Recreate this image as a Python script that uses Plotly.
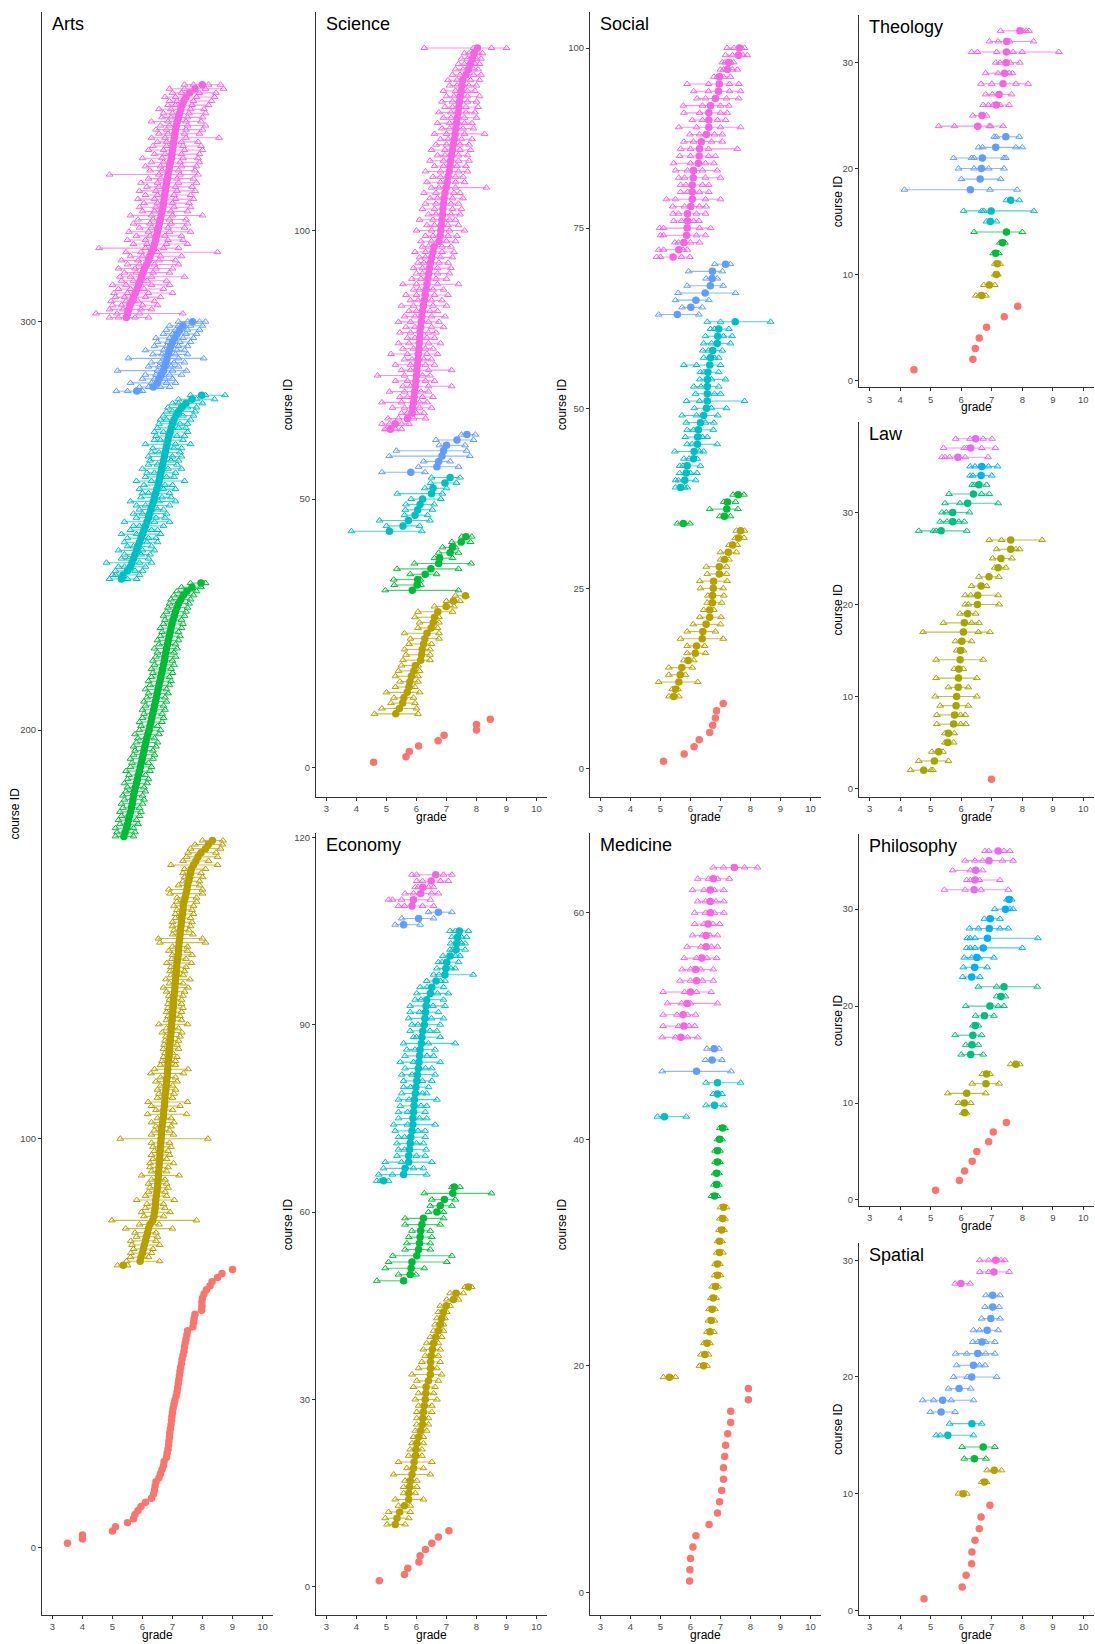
import plotly.graph_objects as go

# ---------------- DATA (grades per course; course ID = running index) ----------------
# Each panel: list of groups; group 0 (red) has only a mean, other groups have mean/lo/hi
# and optionally extra intermediate yearly grades ("mid").

arts_mean = [
    [3.5, 4.0, 4.0, 5.0, 5.1, 5.5, 5.7, 5.75, 5.85, 5.95,
     6.1, 6.3, 6.37, 6.4, 6.42, 6.45, 6.55, 6.6, 6.65, 6.7,
     6.72, 6.8, 6.82, 6.85, 6.87, 6.88, 6.9, 6.91, 6.93, 6.95,
     6.97, 6.98, 7.0, 7.02, 7.05, 7.08, 7.12, 7.15, 7.17, 7.19,
     7.21, 7.23, 7.25, 7.27, 7.3, 7.32, 7.35, 7.38, 7.4, 7.42,
     7.45, 7.48, 7.5, 7.68, 7.7, 7.72, 7.75, 7.97, 7.98, 7.98,
     8.0, 8.05, 8.13, 8.25, 8.32, 8.5, 8.65, 9.0],
    [5.36, 5.92, 5.95, 6.0, 6.03, 6.06, 6.1, 6.13, 6.17, 6.2,
     6.25, 6.34, 6.38, 6.4, 6.42, 6.43, 6.44, 6.46, 6.48, 6.5,
     6.51, 6.52, 6.53, 6.54, 6.55, 6.56, 6.57, 6.58, 6.59, 6.6,
     6.61, 6.62, 6.63, 6.64, 6.65, 6.67, 6.69, 6.7, 6.71, 6.73,
     6.74, 6.75, 6.76, 6.78, 6.79, 6.8, 6.82, 6.83, 6.84, 6.85,
     6.86, 6.88, 6.89, 6.9, 6.91, 6.93, 6.94, 6.95, 6.96, 6.97,
     6.99, 7.0, 7.01, 7.02, 7.03, 7.04, 7.05, 7.07, 7.08, 7.09,
     7.1, 7.12, 7.13, 7.14, 7.15, 7.17, 7.19, 7.2, 7.21, 7.22,
     7.24, 7.25, 7.27, 7.28, 7.3, 7.31, 7.33, 7.35, 7.36, 7.38,
     7.42, 7.45, 7.48, 7.5, 7.54, 7.57, 7.6, 7.63, 7.7, 7.78,
     7.85, 7.95, 8.1, 8.2, 8.33],
    [5.38, 5.42, 5.47, 5.5, 5.53, 5.56, 5.6, 5.63, 5.66, 5.68,
     5.7, 5.73, 5.76, 5.8, 5.83, 5.86, 5.9, 5.93, 5.96, 5.99,
     6.02, 6.05, 6.08, 6.11, 6.14, 6.18, 6.22, 6.25, 6.28, 6.31,
     6.34, 6.37, 6.4, 6.43, 6.46, 6.49, 6.52, 6.55, 6.58, 6.61,
     6.64, 6.67, 6.7, 6.73, 6.75, 6.78, 6.8, 6.83, 6.86, 6.89,
     6.92, 6.95, 6.98, 7.02, 7.06, 7.1, 7.15, 7.2, 7.28, 7.36,
     7.48, 7.65, 7.95],
    [5.3, 5.35, 5.5, 5.6, 5.65, 5.7, 5.75, 5.8, 5.85, 5.9,
     5.95, 6.0, 6.05, 6.1, 6.15, 6.2, 6.24, 6.28, 6.32, 6.36,
     6.4, 6.44, 6.48, 6.52, 6.55, 6.58, 6.61, 6.64, 6.67, 6.7,
     6.73, 6.76, 6.79, 6.82, 6.85, 6.88, 6.92, 6.96, 7.0, 7.05,
     7.12, 7.2, 7.3, 7.45, 7.65, 7.97],
    [5.81, 6.36, 6.5, 6.55, 6.62, 6.7, 6.74, 6.78, 6.82, 6.86,
     6.9, 6.95, 7.0, 7.08, 7.15, 7.25, 7.35, 7.67],
    [5.46, 5.5, 5.54, 5.58, 5.64, 5.7, 5.76, 5.82, 5.87, 5.92,
     5.97, 6.02, 6.07, 6.14, 6.2, 6.25, 6.3, 6.36, 6.4, 6.44,
     6.47, 6.5, 6.53, 6.56, 6.59, 6.62, 6.65, 6.68, 6.7, 6.72,
     6.74, 6.76, 6.78, 6.8, 6.83, 6.85, 6.88, 6.9, 6.93, 6.96,
     6.98, 7.0, 7.02, 7.04, 7.06, 7.08, 7.1, 7.13, 7.16, 7.2,
     7.24, 7.28, 7.32, 7.38, 7.45, 7.58, 7.75, 7.99],
]
arts_lo = [
    [],
    [5.17, 5.47, 5.6, 5.61, 5.7, 5.65, 5.61, 5.8, 5.75, 5.44,
     5.9, 4.98, 6.05, 5.97, 6.1, 6.15, 5.81, 6.1, 6.2, 6.25,
     6.2, 6.3, 5.97, 6.3, 6.25, 6.25, 6.35, 6.3, 6.4, 6.35,
     6.3, 5.26, 6.3, 6.4, 6.45, 6.3, 6.5, 6.17, 6.45, 6.3,
     6.19, 6.5, 6.55, 6.5, 6.6, 6.45, 6.6, 6.28, 6.4, 6.6,
     6.65, 6.7, 6.75, 6.7, 6.72, 6.75, 6.78, 6.66, 6.8, 6.55,
     6.8, 6.85, 6.8, 6.85, 6.85, 6.9, 6.88, 6.8, 6.7, 6.9,
     6.78, 6.95, 6.92, 6.95, 6.81, 6.98, 7.0, 6.88, 7.0, 6.58,
     6.53, 7.0, 7.05, 7.0, 7.0, 7.1, 7.1, 7.15, 7.05, 7.15,
     7.15, 6.92, 6.88, 7.2, 7.35, 7.4, 7.35, 7.4, 6.95, 7.35,
     7.47, 7.52, 7.6, 7.75, 8.0],
    [5.1, 5.15, 5.1, 5.25, 5.2, 5.3, 5.25, 5.35, 5.3, 5.4,
     5.35, 5.45, 5.5, 5.4, 5.5, 5.55, 5.45, 5.6, 5.65, 5.6,
     5.7, 5.75, 5.7, 5.8, 5.85, 5.75, 5.9, 5.95, 5.9, 6.0,
     6.05, 6.0, 6.1, 6.05, 6.15, 6.2, 6.1, 6.25, 6.2, 6.3,
     6.35, 6.3, 6.4, 6.35, 6.45, 6.5, 6.4, 6.55, 6.5, 6.6,
     6.65, 6.6, 6.7, 6.75, 6.7, 6.8, 6.85, 6.9, 6.95, 7.05,
     7.15, 7.3, 7.6],
    [4.9, 5.0, 5.1, 5.2, 4.8, 5.3, 5.4, 5.2, 5.5, 5.4,
     5.5, 5.3, 5.6, 5.7, 5.4, 5.8, 5.7, 5.9, 5.8, 5.6,
     5.95, 6.0, 5.9, 6.05, 5.8, 6.1, 6.15, 6.0, 6.2, 6.25,
     6.2, 6.3, 6.35, 6.1, 6.4, 6.45, 6.4, 6.5, 6.55, 6.6,
     6.7, 6.8, 6.85, 7.0, 7.2, 7.6],
    [5.13, 5.9, 5.6, 6.0, 6.1, 5.17, 6.2, 6.3, 5.53, 6.35,
     6.1, 6.4, 6.5, 6.45, 6.7, 6.8, 6.9, 7.2],
    [4.9, 4.45, 4.9, 5.0, 4.95, 5.1, 5.05, 5.2, 5.0, 5.3,
     5.25, 5.4, 5.2, 5.5, 5.3, 5.6, 5.45, 4.55, 5.7, 5.5,
     5.8, 5.55, 5.9, 5.7, 5.85, 5.6, 6.0, 5.9, 6.05, 5.85,
     6.1, 5.9, 6.15, 5.95, 6.2, 4.9, 6.25, 6.1, 6.3, 6.0,
     6.4, 6.2, 6.35, 6.5, 6.3, 6.55, 6.45, 6.6, 6.3, 6.65,
     6.7, 6.55, 6.85, 6.9, 6.75, 7.0, 6.9, 7.4],
]
arts_hi = [
    [],
    [5.5, 6.57, 6.2, 6.3, 6.35, 6.57, 6.45, 6.5, 6.45, 7.0,
     6.55, 7.8, 6.7, 6.92, 6.75, 6.7, 7.06, 6.8, 6.75, 6.85,
     6.8, 6.75, 7.22, 6.8, 6.85, 7.03, 6.8, 6.9, 6.85, 6.95,
     6.9, 8.18, 7.03, 6.9, 6.95, 7.05, 6.95, 7.47, 7.0, 7.25,
     7.5, 7.0, 7.05, 7.1, 7.0, 7.15, 7.1, 7.36, 7.52, 7.1,
     7.1, 7.15, 7.0, 7.2, 7.15, 7.2, 7.25, 7.31, 7.2, 7.5,
     7.3, 7.25, 7.3, 7.35, 7.3, 7.3, 7.35, 7.4, 7.52, 7.35,
     7.58, 7.36, 7.4, 7.45, 7.63, 7.45, 7.65, 7.5, 7.5, 8.1,
     8.0, 7.68, 7.55, 7.6, 7.65, 7.6, 7.7, 7.65, 7.7, 7.8,
     7.8, 8.0, 8.0, 7.9, 7.9, 8.0, 7.95, 8.1, 8.5, 8.2,
     8.5, 8.45, 8.6, 8.66, 8.68],
    [5.7, 5.75, 5.7, 5.85, 5.8, 5.9, 5.95, 5.9, 6.0, 6.05,
     6.0, 6.1, 6.05, 6.15, 6.2, 6.1, 6.25, 6.3, 6.2, 6.35,
     6.4, 6.35, 6.45, 6.5, 6.4, 6.55, 6.6, 6.5, 6.65, 6.7,
     6.65, 6.75, 6.7, 6.8, 6.75, 6.85, 6.8, 6.9, 6.95, 6.9,
     7.0, 6.95, 7.05, 7.0, 7.1, 7.05, 7.15, 7.1, 7.2, 7.25,
     7.2, 7.3, 7.35, 7.3, 7.4, 7.45, 7.5, 7.55, 7.6, 7.7,
     7.8, 7.95, 8.1],
    [5.8, 5.9, 6.0, 6.1, 6.3, 6.2, 6.25, 6.4, 6.3, 6.5,
     6.45, 6.6, 6.5, 6.7, 6.9, 6.75, 6.8, 6.7, 6.9, 7.1,
     6.95, 6.9, 7.1, 7.0, 7.4, 7.05, 7.1, 7.3, 7.15, 7.2,
     7.3, 7.25, 7.3, 7.6, 7.35, 7.4, 7.5, 7.45, 7.5, 7.6,
     7.7, 7.75, 7.8, 8.0, 8.4, 8.75],
    [6.0, 6.9, 7.1, 7.0, 7.3, 7.47, 7.2, 7.4, 8.04, 7.5,
     7.4, 7.5, 7.6, 7.7, 7.8, 7.9, 8.0, 8.1],
    [6.2, 7.34, 6.3, 6.5, 6.4, 6.6, 7.0, 6.7, 6.9, 6.8,
     7.4, 6.9, 7.0, 7.2, 7.1, 7.3, 8.5, 7.2, 7.5, 7.35,
     7.3, 7.6, 7.4, 7.5, 7.45, 8.0, 7.5, 7.6, 7.55, 7.7,
     7.6, 7.75, 7.65, 7.8, 7.7, 7.85, 7.75, 7.8, 7.9, 7.85,
     7.9, 8.0, 7.95, 7.85, 8.55, 7.9, 8.0, 8.1, 7.95, 8.0,
     8.1, 8.05, 8.2, 8.3, 8.4, 8.45, 8.7, 8.6],
]
arts_mid = [
    [], [], [],
    [[5.5], [5.1], [5.75], [5.4], [5.9], [5.55], [5.95], [6.0], [5.7], [6.15],
     [6.2], [5.8], [6.3], [5.9], [6.4], [6.45], [6.0], [6.5], [6.1], [6.55],
     [6.65], [6.2], [6.7], [6.75], [6.3], [6.8], [6.4], [6.85], [6.5], [6.95],
     [7.0], [6.55], [7.05], [7.1], [6.6], [7.15], [6.7], [7.2], [7.25], [6.8],
     [7.35], [7.0], [7.5], [7.2], [7.8], [8.1]],
    [[5.5, 5.9], [6.2, 6.6], [6.3, 6.8], [6.4, 6.75], [6.45, 6.9], [6.5, 7.0],
     [6.55, 6.95], [6.6, 7.05], [6.7, 7.2], [6.65, 7.1], [6.7, 7.15], [6.8, 7.2],
     [6.85, 7.25], [6.9, 7.35], [7.0, 7.45], [7.1, 7.5], [7.2, 7.6], [7.5, 7.9]],
    [[5.2, 5.75], [5.15, 5.9], [5.35, 5.95], [5.3, 6.0], [5.45, 5.85],
     [5.4, 6.1], [5.5, 6.2], [5.6, 6.05], [5.45, 6.3], [5.7, 6.15],
     [5.6, 6.3], [5.8, 6.35], [5.75, 6.45], [5.9, 6.4], [5.85, 6.55],
     [6.0, 6.6], [5.95, 6.5], [6.1, 6.7], [6.15, 6.8], [6.1, 6.85],
     [6.25, 6.75], [6.2, 6.9], [6.3, 6.85], [6.25, 6.95], [6.35, 6.9],
     [6.3, 7.0], [6.4, 6.95], [6.45, 7.05], [6.5, 7.0], [6.4, 7.1],
     [6.5, 7.05], [6.45, 7.15], [6.55, 7.1], [6.5, 7.2], [6.6, 7.15],
     [6.55, 7.25], [6.65, 7.2], [6.6, 7.3], [6.7, 7.25], [6.65, 7.35],
     [6.75, 7.3], [6.7, 7.4], [6.8, 7.35], [6.8, 7.3], [6.75, 7.45],
     [6.85, 7.4], [6.8, 7.45], [6.9, 7.5], [6.85, 7.45], [6.95, 7.5],
     [7.0, 7.55], [6.95, 7.6], [7.1, 7.65], [7.15, 7.7], [7.1, 7.8],
     [7.3, 7.9], [7.4, 8.1], [7.7, 8.2]],
]

science_mean = [
    [4.57, 5.65, 5.76, 6.07, 6.72, 6.92, 8.0, 8.0, 8.46],
    [5.31, 5.43, 5.54, 5.58, 5.69, 5.75, 5.78, 5.83, 5.91, 5.96,
     6.14, 6.17, 6.19, 6.24, 6.28, 6.35, 6.49, 6.56, 6.6, 6.71,
     6.99, 7.23, 7.63],
    [5.86, 6.02, 6.04, 6.29, 6.48, 6.74, 6.77, 7.12, 7.2, 7.49, 7.65],
    [5.1, 5.55, 5.73, 5.95, 6.04, 6.12, 6.2, 6.5, 6.55, 6.95, 7.12],
    [5.81, 6.68, 6.74, 6.85, 6.9, 7.0, 7.35, 7.68],
    [5.13, 5.29, 5.7, 5.85, 5.87, 5.9, 5.92, 5.94, 5.96, 5.98,
     6.0, 6.01, 6.03, 6.05, 6.06, 6.08, 6.09, 6.11, 6.12, 6.14,
     6.16, 6.18, 6.2, 6.23, 6.26, 6.29, 6.32, 6.35, 6.38, 6.41,
     6.43, 6.47, 6.51, 6.55, 6.59, 6.75, 6.79, 6.81, 6.83, 6.85,
     6.87, 6.88, 6.9, 6.92, 6.95, 6.99, 7.02, 7.05, 7.09, 7.12,
     7.14, 7.17, 7.2, 7.23, 7.26, 7.29, 7.31, 7.34, 7.36, 7.39,
     7.41, 7.43, 7.46, 7.49, 7.52, 7.54, 7.65, 7.73, 7.8, 7.86,
     7.92, 8.03],
]
science_lo = [
    [],
    [4.6, 4.85, 5.15, 5.25, 5.0, 5.3, 5.45, 5.3, 5.4, 5.5,
     5.55, 5.65, 5.6, 5.75, 5.8, 5.6, 6.05, 6.1, 5.95, 6.05,
     6.6, 7.0, 7.3],
    [4.96, 5.26, 5.24, 5.79, 5.35, 5.93, 6.6, 6.74, 6.87, 7.18, 7.51],
    [3.83, 5.0, 4.77, 5.6, 5.63, 5.65, 5.82, 5.36, 6.28, 6.47, 6.5],
    [4.85, 6.07, 6.24, 5.09, 5.33, 6.76, 6.65, 7.5],
    [4.95, 4.85, 5.05, 5.5, 5.2, 4.85, 5.45, 5.1, 5.55, 5.3,
     4.7, 5.5, 5.3, 5.6, 5.15, 5.55, 5.4, 5.7, 5.45, 5.65,
     5.4, 5.6, 5.75, 5.5, 5.8, 5.65, 5.9, 5.55, 5.85, 6.0,
     5.9, 6.05, 6.1, 5.95, 6.2, 6.15, 6.3, 6.0, 6.35, 6.1,
     6.4, 6.2, 6.3, 6.45, 6.25, 6.5, 6.35, 6.55, 6.3, 6.6,
     6.45, 6.7, 6.5, 6.65, 6.8, 6.6, 6.85, 6.7, 6.9, 6.75,
     6.95, 6.85, 7.0, 6.9, 7.1, 7.05, 7.2, 7.3, 7.4, 7.5,
     7.6, 6.26],
]
science_hi = [
    [],
    [6.05, 6.0, 5.95, 5.9, 6.1, 5.95, 6.05, 6.05, 6.1, 6.05,
     6.45, 6.45, 6.45, 6.5, 6.75, 6.75, 6.7, 6.75, 6.75, 7.2,
     7.25, 7.45, 7.65],
    [7.4, 6.15, 6.13, 6.67, 7.4, 7.82, 7.2, 7.4, 7.3, 7.8, 7.84],
    [6.18, 6.1, 6.45, 6.37, 6.53, 6.59, 6.81, 6.86, 7.0, 7.33, 7.45],
    [6.28, 7.4, 7.12, 7.78, 7.67, 7.62, 7.9, 7.96],
    [5.5, 5.75, 6.3, 6.25, 6.5, 6.35, 6.55, 6.4, 7.17, 6.6,
     6.45, 7.17, 6.6, 6.5, 6.7, 6.55, 6.8, 6.6, 6.65, 6.9,
     6.75, 6.95, 6.7, 7.0, 6.85, 7.05, 6.9, 7.4, 7.0, 7.1,
     7.15, 7.05, 7.2, 7.25, 7.15, 7.3, 7.35, 7.6, 7.4, 7.3,
     7.45, 7.5, 7.4, 7.55, 7.45, 8.33, 7.6, 7.55, 7.7, 7.65,
     7.75, 7.7, 7.8, 7.75, 7.85, 8.27, 7.9, 7.85, 8.0, 7.95,
     8.05, 8.0, 8.1, 7.95, 8.0, 8.1, 8.15, 8.05, 8.1, 8.15,
     8.2, 9.0],
]
science_mid = [
    [], [], [], [], [],
    [[5.0, 5.3], [5.1, 5.5], [5.4, 5.9], [5.7, 6.0], [5.6, 6.1],
     [5.5, 6.1], [5.7, 6.2], [5.6, 6.15], [5.8, 6.4], [5.7, 6.3],
     [5.6, 6.2], [5.8, 6.4], [5.8, 6.3], [5.85, 6.25], [5.7, 6.35],
     [5.9, 6.3], [5.75, 6.4], [5.95, 6.35], [5.8, 6.4], [5.95, 6.5],
     [5.8, 6.4], [5.95, 6.5], [6.0, 6.45], [5.9, 6.55], [6.05, 6.5],
     [6.0, 6.6], [6.1, 6.55], [6.0, 6.7], [6.15, 6.65], [6.2, 6.7],
     [6.2, 6.7], [6.25, 6.75], [6.3, 6.8], [6.3, 6.85], [6.4, 6.85],
     [6.5, 7.0], [6.55, 7.05], [6.5, 7.1], [6.6, 7.05], [6.55, 7.1],
     [6.65, 7.15], [6.6, 7.2], [6.65, 7.15], [6.7, 7.2], [6.65, 7.25],
     [6.75, 7.3], [6.8, 7.3], [6.8, 7.3], [6.8, 7.4], [6.9, 7.35],
     [6.9, 7.4], [6.95, 7.4], [6.95, 7.45], [7.0, 7.45], [7.05, 7.5],
     [7.0, 7.6], [7.1, 7.55], [7.1, 7.6], [7.15, 7.6], [7.15, 7.65],
     [7.2, 7.65], [7.2, 7.7], [7.25, 7.7], [7.3, 7.7], [7.35, 7.75],
     [7.35, 7.8], [7.45, 7.9], [7.55, 7.9], [7.6, 7.95], [7.7, 8.0],
     [7.75, 8.05], [7.9, 8.5]],
]

social_mean = [
    [5.1, 5.79, 6.12, 6.29, 6.64, 6.74, 6.83, 6.87, 7.09],
    [5.44, 5.5, 5.61, 5.66, 5.71, 5.92, 6.16, 6.2, 6.39, 6.41,
     6.52, 6.64, 6.64, 6.73, 6.73, 6.76, 6.77, 6.96, 6.96, 7.13,
     7.26, 7.4, 7.6, 7.67],
    [5.76, 7.13, 7.21, 7.23, 7.59],
    [5.67, 5.81, 5.86, 5.89, 6.1, 6.12, 6.23, 6.24, 6.26, 6.33,
     6.44, 6.53, 6.56, 6.56, 6.56, 6.56, 6.58, 6.64, 6.67, 6.74,
     6.89, 6.91, 6.94, 7.49],
    [5.56, 6.01, 6.18, 6.49, 6.66, 6.72, 6.73, 7.17],
    [5.42, 5.61, 5.78, 5.87, 5.89, 5.9, 5.9, 6.01, 6.06, 6.06,
     6.06, 6.09, 6.1, 6.26, 6.29, 6.3, 6.36, 6.53, 6.61, 6.61,
     6.61, 6.67, 6.83, 6.93, 6.96, 6.97, 7.23, 7.27, 7.6, 7.63],
]
social_lo = [
    [],
    [5.28, 5.39, 4.94, 5.28, 5.28, 5.78, 5.89, 5.89, 5.67, 5.89,
     6.09, 6.31, 6.44, 6.56, 6.58, 6.33, 6.31, 6.56, 6.53, 7.0,
     7.0, 7.28, 7.5, 7.53],
    [5.56, 6.98, 6.64, 7.11, 7.42],
    [5.5, 5.5, 5.64, 5.64, 5.78, 5.48, 5.89, 5.83, 5.89, 5.86,
     5.72, 6.13, 5.87, 6.17, 6.11, 6.31, 6.33, 5.78, 6.44, 6.41,
     6.44, 6.5, 6.67, 6.56],
    [4.94, 5.72, 5.5, 5.59, 5.89, 6.52, 5.94, 6.81],
    [4.87, 4.94, 5.48, 5.0, 4.97, 5.44, 5.42, 5.41, 5.2, 5.67,
     5.67, 5.61, 5.5, 5.44, 5.64, 5.67, 5.78, 5.98, 5.61, 6.06,
     5.78, 5.76, 6.22, 6.11, 5.89, 6.78, 7.0, 7.06, 7.17, 7.22],
]
social_hi = [
    [],
    [5.61, 5.58, 6.24, 5.83, 6.06, 6.11, 6.5, 6.47, 7.09, 6.83,
     7.0, 7.02, 6.78, 7.04, 7.11, 7.09, 7.22, 7.2, 7.2, 7.28,
     7.53, 7.56, 7.78, 7.8],
    [5.98, 7.33, 7.58, 7.5, 7.78],
    [5.89, 6.17, 6.22, 6.33, 6.22, 6.44, 6.89, 6.56, 6.76, 6.78,
     6.91, 7.2, 7.8, 7.0, 6.94, 7.17, 6.94, 7.0, 6.94, 7.06,
     7.33, 7.39, 7.28, 8.67],
    [6.28, 6.39, 6.61, 7.5, 7.09, 6.89, 7.06, 7.33],
    [5.98, 5.89, 6.3, 6.5, 6.67, 6.28, 6.5, 6.52, 7.0, 6.61,
     6.61, 7.0, 6.89, 6.78, 6.83, 7.56, 7.06, 7.06, 7.67, 7.17,
     7.22, 7.28, 7.61, 7.67, 7.61, 7.33, 7.56, 7.44, 7.89, 7.8],
]
social_mid = [
    [], [], [],
    [[5.8], [5.6], [6.0], [5.75], [5.95], [6.3], [6.05], [6.4], [6.1], [6.5],
     [6.2], [6.7], [6.3], [6.8], [6.35], [6.7], [6.45], [6.2], [6.8], [6.6],
     [6.7], [7.1], [6.8], [7.0]],
    [],
    [[5.0, 5.7], [5.1, 5.75], [5.6, 6.0], [5.1, 6.2], [5.1, 6.3],
     [5.7, 6.1], [5.6, 6.2], [5.8, 6.3], [5.5, 6.5], [5.9, 6.3],
     [5.85, 6.4], [5.8, 6.5], [5.9, 6.4], [6.0, 6.5], [6.0, 6.6],
     [6.0, 6.6], [6.1, 6.7], [6.3, 6.8], [6.2, 7.0], [6.4, 6.9],
     [6.3, 7.0], [6.4, 7.0], [6.5, 7.2], [6.6, 7.3], [6.6, 7.3],
     [6.9, 7.1], [7.1, 7.4], [7.15, 7.35], [7.4, 7.75], [7.45, 7.7]],
]

economy_mean = [
    [4.76, 5.6, 5.71, 6.08, 6.12, 6.3, 6.51, 6.73, 7.08],
    [5.29, 5.35, 5.44, 5.6, 5.74, 5.74, 5.77, 5.79, 5.85, 5.9,
     5.92, 5.97, 5.98, 6.01, 6.07, 6.14, 6.2, 6.21, 6.23, 6.26,
     6.29, 6.31, 6.32, 6.4, 6.46, 6.47, 6.47, 6.49, 6.53, 6.57,
     6.64, 6.73, 6.79, 6.84, 6.9, 6.99, 7.23, 7.32, 7.73],
    [5.57, 5.79, 5.82, 5.85, 6.01, 6.07, 6.1, 6.12, 6.14, 6.18,
     6.23, 6.68, 6.79, 6.93, 7.21, 7.26],
    [4.9, 5.57, 5.62, 5.74, 5.74, 5.77, 5.79, 5.81, 5.85, 5.88,
     5.88, 5.9, 5.92, 5.93, 5.96, 5.98, 6.01, 6.03, 6.06, 6.08,
     6.1, 6.12, 6.16, 6.18, 6.21, 6.26, 6.28, 6.3, 6.32, 6.34,
     6.46, 6.51, 6.65, 6.95, 6.98, 7.01, 7.12, 7.32, 7.34, 7.37,
     7.43],
    [5.57, 6.07, 6.73],
    [5.85, 5.9, 6.14, 6.21, 6.49, 6.64],
]
economy_lo = [
    [],
    [5.02, 4.96, 5.07, 5.4, 5.29, 5.57, 5.57, 5.62, 5.24, 5.68,
     5.4, 5.74, 5.79, 5.85, 5.9, 5.96, 6.01, 6.01, 6.01, 6.07,
     5.96, 6.07, 5.9, 6.01, 5.85, 6.07, 6.18, 6.29, 6.23, 6.34,
     6.46, 6.57, 6.62, 6.68, 6.73, 6.79, 7.01, 7.12, 7.62],
    [4.68, 5.4, 4.96, 5.07, 5.21, 5.62, 5.68, 5.74, 5.85, 5.62,
     5.62, 6.4, 6.46, 6.51, 6.26, 7.18],
    [4.68, 4.74, 4.9, 4.96, 5.35, 5.4, 5.35, 5.4, 5.29, 5.24,
     5.4, 5.4, 5.46, 5.4, 5.51, 5.57, 5.57, 5.51, 5.62, 5.46,
     5.62, 5.68, 5.57, 5.9, 5.79, 5.85, 5.74, 5.79, 5.79, 5.96,
     6.01, 6.12, 6.34, 6.57, 6.68, 6.73, 6.88, 7.12, 7.14, 7.18,
     7.12],
    [5.29, 5.51, 6.4],
    [5.4, 5.07, 5.62, 5.96, 6.01, 5.85],
]
economy_hi = [
    [],
    [5.62, 5.74, 5.79, 5.79, 6.23, 5.96, 6.01, 6.01, 6.46, 6.23,
     6.51, 6.18, 6.18, 6.23, 6.23, 6.34, 6.4, 6.4, 6.51, 6.51,
     6.68, 6.57, 6.62, 6.73, 6.84, 6.68, 6.79, 6.73, 6.79, 6.73,
     6.84, 6.9, 6.9, 6.95, 7.01, 7.12, 7.4, 7.56, 7.84],
    [5.57, 5.98, 6.26, 7.01, 7.18, 6.46, 6.46, 6.51, 6.46, 6.79,
     6.9, 6.9, 7.18, 7.29, 8.5, 7.45],
    [5.07, 6.34, 6.23, 6.51, 6.29, 6.32, 6.23, 6.29, 6.29, 6.62,
     6.34, 6.29, 6.34, 6.68, 6.34, 6.4, 6.51, 6.62, 6.51, 6.79,
     6.57, 6.62, 7.29, 6.79, 6.68, 6.79, 6.9, 6.73, 6.95, 6.9,
     7.06, 6.9, 6.95, 7.89, 7.29, 7.4, 7.45, 7.62, 7.62, 7.67,
     7.73],
    [6.12, 6.57, 7.18],
    [6.57, 6.46, 6.73, 6.57, 7.06, 7.18],
]
economy_mid = [
    [], [], [],
    [[4.8], [5.2], [5.9], [5.5], [6.0], [5.6], [6.0], [5.6], [6.05], [5.7],
     [6.1], [5.7], [6.15], [5.75], [6.2], [5.8], [6.2], [5.85], [6.3], [5.9],
     [6.35], [5.95], [6.4], [6.0], [6.45], [6.05], [6.5], [6.1], [6.55], [6.15],
     [6.7], [6.35], [6.8], [6.75], [7.15], [6.85], [7.3], [7.2], [7.5], [7.5],
     [7.3]],
    [],
    [[5.6, 6.2], [5.2, 5.5], [5.9, 6.5], [6.05, 6.4], [6.2, 6.8], [6.0, 6.9]],
]

medicine_mean = [
    [5.97, 5.98, 6.0, 6.08, 6.18, 6.62, 6.9, 6.97, 7.04, 7.1,
     7.1, 7.14, 7.17, 7.24, 7.34, 7.34, 7.93, 7.93],
    [5.3, 6.44, 6.48, 6.55, 6.65, 6.69, 6.72, 6.76, 6.83, 6.9,
     6.9, 6.97, 6.97, 7.04, 7.07, 7.1],
    [6.8, 6.87, 6.87, 6.9, 6.9, 6.97, 7.07],
    [5.13, 6.8, 6.9, 6.9],
    [6.2, 6.72, 6.79],
    [5.68, 5.78, 5.75, 5.89, 6.0, 6.2, 6.17, 6.38, 6.52, 6.52,
     6.59, 6.66, 6.66, 6.66, 6.76, 7.46],
]
medicine_lo = [
    [],
    [5.1, 6.3, 6.35, 6.45, 6.55, 6.6, 6.62, 6.68, 6.72, 6.8,
     6.82, 6.88, 6.9, 6.95, 6.98, 7.0],
    [6.7, 6.78, 6.8, 6.82, 6.82, 6.9, 6.98],
    [4.9, 6.52, 6.76, 6.52],
    [5.06, 6.5, 6.55],
    [5.06, 5.09, 5.09, 5.23, 5.09, 5.65, 5.72, 5.79, 5.89, 6.07,
     6.14, 6.14, 6.24, 6.07, 6.24, 6.76],
]
medicine_hi = [
    [],
    [5.5, 6.55, 6.6, 6.65, 6.78, 6.8, 6.82, 6.85, 6.92, 7.0,
     6.98, 7.08, 7.05, 7.12, 7.15, 7.2],
    [6.9, 6.95, 6.95, 6.98, 6.98, 7.05, 7.15],
    [5.86, 7.11, 7.05, 7.67],
    [7.35, 7.05, 6.95],
    [6.24, 6.14, 6.17, 6.9, 6.69, 6.76, 6.76, 6.87, 6.9, 6.9,
     6.97, 7.11, 7.11, 7.11, 7.29, 8.23],
]
medicine_mid = [
    [], [], [], [], [],
    [[5.5, 5.9], [5.6, 5.95], [5.55, 5.9], [5.7, 6.0], [5.8, 6.2],
     [6.0, 6.4], [6.0, 6.35], [6.2, 6.55], [6.35, 6.7], [6.4, 6.65],
     [6.45, 6.75], [6.5, 6.8], [6.5, 6.85], [6.45, 6.8], [6.6, 6.9], [7.1, 7.8]],
]

theology_mean = [
    [4.45, 6.38, 6.46, 6.59, 6.83, 7.41, 7.85],
    [6.67, 6.92, 7.15, 7.18],
    [7.13, 7.35, 7.48],
    [6.95, 6.98, 7.62],
    [6.3, 6.62, 6.66, 6.69, 7.13, 7.46],
    [6.54, 6.68, 7.15, 7.24, 7.37, 7.42, 7.47, 7.48, 7.49, 7.92],
]
theology_lo = [
    [],
    [6.48, 6.74, 7.1, 7.1],
    [7.05, 7.27, 6.42],
    [6.83, 6.08, 7.48],
    [4.14, 6.01, 5.91, 5.75, 6.57, 7.08],
    [5.26, 6.38, 6.72, 6.8, 6.65, 6.8, 7.13, 6.34, 6.92, 7.29],
]
theology_hi = [
    [],
    [6.81, 7.1, 7.2, 7.27],
    [7.23, 7.43, 8.0],
    [7.16, 8.38, 7.9],
    [7.83, 7.29, 7.4, 7.46, 8.0, 7.9],
    [7.37, 6.83, 7.57, 7.65, 8.19, 7.68, 7.92, 9.2, 8.37, 8.22],
]
theology_mid = [
    [],
    [[6.58], [], [], []],
    [[], [], []],
    [[], [6.67, 6.74], []],
    [[6.94], [], [6.42, 6.9], [6.34, 6.42, 7.4], [6.7, 7.79], [7.15]],
    [[5.78, 6.92, 6.96], [], [6.89, 7.05, 7.27], [7.02], [7.0, 7.79],
     [7.21, 7.57], [7.27, 7.61], [6.53, 7.16, 7.7, 8.0], [7.21, 7.59], [8.02, 8.13]],
]

law_mean = [
    [6.99],
    [4.77, 5.12, 5.26, 5.56, 5.58, 5.75, 5.78, 5.83, 5.85, 5.9,
     5.91, 5.92, 5.96, 5.98, 6.02, 6.07, 6.1, 6.21, 6.53, 6.54,
     6.65, 6.91, 7.21, 7.3, 7.62, 7.62],
    [5.34, 5.72, 5.72, 6.21, 6.4, 6.58],
    [6.65, 6.67],
    [5.89, 6.31, 6.47],
]
law_lo = [
    [],
    [4.34, 4.61, 5.04, 5.47, 5.47, 5.2, 5.2, 5.31, 5.15, 5.58,
     5.18, 5.77, 5.18, 5.85, 5.81, 4.75, 5.42, 5.96, 6.13, 6.13,
     6.34, 6.58, 7.1, 7.03, 7.16, 6.92],
    [4.61, 5.31, 5.37, 5.47, 5.6, 6.36],
    [6.29, 6.29],
    [5.37, 5.42, 5.82],
]
law_hi = [
    [],
    [5.07, 5.58, 5.4, 5.75, 5.77, 6.15, 6.13, 6.23, 6.51, 6.23,
     6.51, 6.07, 6.72, 6.07, 6.34, 6.94, 6.58, 6.47, 7.24, 7.21,
     6.83, 7.23, 7.46, 7.66, 7.91, 8.65],
    [6.18, 6.1, 6.27, 7.21, 6.92, 6.83],
    [7.0, 7.19],
    [6.88, 7.12, 7.01],
]
law_mid = [
    [],
    [[5.01], [], [], [], [], [5.98], [5.98], [], [], [],
     [], [], [], [], [], [6.56], [6.34], [], [6.23], [6.31],
     [], [], [], [], [7.79], [7.32]],
    [[5.09, 5.18], [5.53, 5.92], [5.51], [5.96], [6.67], [6.43]],
    [[6.38], [6.45, 6.89]],
    [[5.47, 5.62, 6.13], [6.1, 6.18, 6.67], [6.29, 6.72]],
]

philosophy_mean = [
    [5.16, 5.94, 6.11, 6.36, 6.51, 6.9, 7.05, 7.48],
    [6.11, 6.1, 6.18, 6.81, 6.83, 7.79],
    [6.31, 6.35, 6.38, 6.46, 6.76, 6.94, 7.3, 7.4],
    [6.34, 6.44, 6.51, 6.72, 6.86, 6.92, 6.95, 7.45, 7.57],
    [6.42, 6.45, 6.47, 6.91, 7.21],
]
philosophy_lo = [
    [],
    [6.05, 5.91, 5.56, 6.36, 6.7, 7.62],
    [6.0, 6.15, 5.8, 6.38, 6.47, 6.15, 7.16, 6.56],
    [6.05, 6.07, 6.1, 6.18, 6.2, 6.27, 6.76, 7.1, 7.5],
    [5.45, 6.18, 5.72, 6.13, 6.78],
]
philosophy_hi = [
    [],
    [6.17, 6.31, 6.8, 7.24, 6.94, 7.92],
    [6.72, 6.56, 6.67, 6.56, 7.07, 7.4, 7.45, 8.49],
    [6.61, 6.85, 7.07, 8.0, 8.51, 7.54, 7.27, 7.7, 7.65],
    [7.54, 7.27, 6.7, 7.7, 7.59],
]
philosophy_mid = [
    [],
    [[], [], [], [], [], []],
    [[], [], [], [], [], [7.21], [], [7.16]],
    [[], [], [6.34, 6.58], [6.3, 6.45], [6.29, 6.45], [6.56, 7.27], [], [7.6], []],
    [[6.13, 6.65], [6.3, 6.6], [6.3], [6.45, 6.7, 7.35], [6.9, 7.4]],
]

spatial_mean = [
    [4.78, 6.03, 6.16, 6.34, 6.35, 6.45, 6.59, 6.65, 6.94],
    [6.06, 6.76, 7.08],
    [6.43, 6.72],
    [5.56, 6.35],
    [5.34, 5.39, 5.93, 6.34, 6.4, 6.54, 6.68, 6.85, 6.97, 7.03, 7.03],
    [5.99, 7.07, 7.13],
]
spatial_lo = [
    [],
    [5.91, 6.67, 6.85],
    [6.1, 6.03],
    [5.18, 5.62],
    [4.99, 4.74, 5.58, 5.75, 5.85, 5.82, 6.38, 6.4, 6.67, 6.78, 6.81],
    [5.8, 6.61, 6.61],
]
spatial_hi = [
    [],
    [6.18, 6.83, 7.32],
    [6.81, 7.1],
    [6.4, 6.67],
    [5.8, 6.4, 6.31, 7.16, 6.78, 7.1, 7.1, 7.21, 7.27, 7.24, 7.27],
    [6.29, 7.57, 7.43],
]
spatial_mid = [
    [],
    [[], [], []],
    [[], []],
    [[5.31], []],
    [[], [5.1, 5.67], [], [6.2], [6.6], [6.18, 6.6, 6.8], [6.55, 6.8], [6.6], [], [], []],
    [[], [6.9], [6.9, 7.3]],
]

panel_titles = ["Arts", "Science", "Economy", "Social", "Medicine",
                "Theology", "Law", "Philosophy", "Spatial"]
grade_ticks = [3, 4, 5, 6, 7, 8, 9, 10]
yticks_list = [[0, 100, 200, 300], [0, 50, 100], [0, 30, 60, 90, 120],
               [0, 25, 50, 75, 100], [0, 20, 40, 60],
               [0, 10, 20, 30], [0, 10, 20, 30], [0, 10, 20, 30], [0, 10, 20, 30]]

# ---------------- STYLE / LAYOUT ----------------
PAL6 = ["#F8766D", "#B79F00", "#00BA38", "#00BFC4", "#619CFF", "#F564E3"]
PAL5 = ["#F8766D", "#A3A500", "#00BF7D", "#00B0F6", "#E76BF3"]
W, H = 1095, 1644
FONT = "Liberation Sans, Arial, Helvetica, sans-serif"

# pixel boxes of the plot areas: (x0, x1, ytop, ybottom), y ranges, y-title offset
boxes = [(42, 273, 10, 1616), (316, 547, 10, 796), (316, 547, 833, 1616),
         (590, 821, 10, 796), (590, 821, 833, 1616),
         (859, 1094, 13, 386), (859, 1094, 421, 796), (859, 1094, 834, 1206),
         (859, 1094, 1243, 1616)]
yranges = [(-16.6, 375.8), (-5.4, 140.7), (-4.5, 120.6), (-3.9, 105.0), (-2.0, 67.0),
           (-0.66, 34.5), (-0.87, 39.8), (-0.6, 37.7), (-0.4, 31.5)]
ytitle_off = [27, 28, 28, 28, 28, 21, 21, 21, 21]

panels = [
    (arts_mean, arts_lo, arts_hi, arts_mid, PAL6),
    (science_mean, science_lo, science_hi, science_mid, PAL6),
    (economy_mean, economy_lo, economy_hi, economy_mid, PAL6),
    (social_mean, social_lo, social_hi, social_mid, PAL6),
    (medicine_mean, medicine_lo, medicine_hi, medicine_mid, PAL6),
    (theology_mean, theology_lo, theology_hi, theology_mid, PAL6),
    (law_mean, law_lo, law_hi, law_mid, PAL5),
    (philosophy_mean, philosophy_lo, philosophy_hi, philosophy_mid, PAL5),
    (spatial_mean, spatial_lo, spatial_hi, spatial_mid, PAL6),
]

fig = go.Figure()
annotations = []
for p, (means, los, his, mids, pal) in enumerate(panels):
    sfx = "" if p == 0 else str(p + 1)
    xr, yr = "x" + sfx, "y" + sfx
    line_traces, tri_traces, dot_traces = [], [], []
    cid = 1
    for g, gm in enumerate(means):
        col = pal[g]
        ids = list(range(cid, cid + len(gm)))
        cid += len(gm)
        if los[g]:
            lx, ly, tx, ty = [], [], [], []
            for k, cy in enumerate(ids):
                lx += [los[g][k], his[g][k], None]
                ly += [cy, cy, None]
                tx += [los[g][k], his[g][k]]
                ty += [cy, cy]
                if mids[g]:
                    for v in mids[g][k]:
                        tx.append(v)
                        ty.append(cy)
            line_traces.append(go.Scatter(
                x=lx, y=ly, mode="lines", line=dict(color=col, width=1.1),
                opacity=0.7, xaxis=xr, yaxis=yr, hoverinfo="skip", showlegend=False))
            tri_traces.append(go.Scatter(
                x=tx, y=ty, mode="markers",
                marker=dict(symbol="triangle-up-open", size=6, color=col,
                            line=dict(width=1, color=col)),
                xaxis=xr, yaxis=yr, hoverinfo="skip", showlegend=False))
        dot_traces.append(go.Scatter(
            x=gm, y=ids, mode="markers",
            marker=dict(symbol="circle", size=7.5, color=col, line=dict(width=0)),
            xaxis=xr, yaxis=yr, showlegend=False))
    for t in line_traces + tri_traces + dot_traces:
        fig.add_trace(t)

    x0, x1, yt, yb = boxes[p]
    axstyle = dict(showline=True, linecolor="#333333", linewidth=1, ticks="outside",
                   ticklen=3, tickwidth=1, tickcolor="#333333", showgrid=False,
                   zeroline=False, tickfont=dict(size=9.5, color="#4D4D4D", family=FONT))
    fig.layout["xaxis" + sfx] = dict(
        domain=[x0 / W, x1 / W], range=[2.65, 10.35], tickvals=grade_ticks,
        anchor=yr, **axstyle)
    fig.layout["yaxis" + sfx] = dict(
        domain=[1 - yb / H, 1 - yt / H], range=list(yranges[p]),
        tickvals=yticks_list[p], anchor=xr, **axstyle)

    annotations.append(dict(text=panel_titles[p], xref="paper", yref="paper",
                            x=(x0 + 8) / W, y=1 - yt / H, xanchor="left", yanchor="top",
                            showarrow=False, font=dict(size=18, color="black", family=FONT)))
    annotations.append(dict(text="grade", xref="paper", yref="paper",
                            x=((x0 + x1) / 2) / W, y=1 - (yb + 20) / H,
                            xanchor="center", yanchor="middle", showarrow=False,
                            font=dict(size=12, color="black", family=FONT)))
    annotations.append(dict(text="course ID", xref="paper", yref="paper",
                            x=(x0 - ytitle_off[p]) / W, y=1 - ((yt + yb) / 2) / H,
                            xanchor="center", yanchor="middle", textangle=-90,
                            showarrow=False, font=dict(size=12, color="black", family=FONT)))

fig.update_layout(width=W, height=H, margin=dict(l=0, r=0, t=0, b=0),
                  paper_bgcolor="white", plot_bgcolor="white",
                  annotations=annotations, font=dict(family=FONT))
fig.write_html("out.html", config={"displayModeBar": False},
               post_script="document.body.style.margin='0px';")
